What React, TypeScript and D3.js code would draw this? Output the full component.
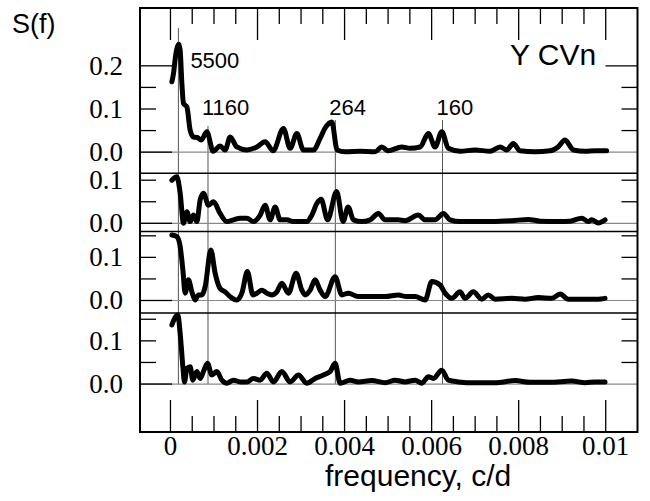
import React from "react";
import * as d3 from "d3";

// ---- data ----
const freq1 = [0.000032,0.000069,0.00012,0.000193,0.000223,0.000262,0.000299,0.000377,0.000452,0.000528,0.000613,0.000705,0.000836,0.000981,0.00114,0.001256,0.001371,0.001525,0.001755,0.001984,0.002175,0.002359,0.002595,0.002749,0.002903,0.003055,0.003284,0.003438,0.003553,0.003707,0.003829,0.004012,0.004357,0.004701,0.004855,0.005,0.005315,0.005505,0.005735,0.005926,0.006079,0.006233,0.006385,0.006654,0.006998,0.007343,0.007573,0.007726,0.007878,0.008032,0.008376,0.008721,0.008905,0.009065,0.009256,0.009525,0.009754,0.01002];
const power1 = [0.163,0.182,0.225,0.25,0.236,0.159,0.113,0.105,0.051,0.035,0.034,0.028,0.047,0.002,0.014,0.005,0.035,0.012,0.005,0.012,0.024,0.003,0.055,0.009,0.043,0.005,0.005,0.032,0.056,0.07,0.005,0.001,0.002,0.001,0.012,0.003,0.012,0.009,0.012,0.043,0.012,0.047,0.009,0.002,0.005,0.002,0.012,0.005,0.02,0.003,0.001,0.003,0.012,0.028,0.005,0.002,0.003,0.003];

const freq2 = [0.000032,0.000147,0.000223,0.000299,0.000377,0.000452,0.000528,0.000606,0.000682,0.000758,0.000873,0.000988,0.00114,0.001295,0.001447,0.001601,0.001755,0.001906,0.00206,0.002175,0.00229,0.002405,0.00252,0.002673,0.002825,0.002979,0.003133,0.003248,0.003362,0.003461,0.00361,0.003817,0.003966,0.004081,0.004203,0.004396,0.004587,0.004777,0.004931,0.00523,0.00539,0.005696,0.00585,0.006079,0.00627,0.006424,0.006654,0.006998,0.007389,0.007841,0.008222,0.008491,0.008911,0.00918,0.009449,0.0096,0.009678,0.00983,0.009984];
const power2 = [0.1,0.108,0.07,0.0,0.027,0.004,0.019,0.004,0.054,0.07,0.042,0.05,0.023,0.004,0.008,0.012,0.012,0.004,0.019,0.042,0.008,0.038,0.008,0.008,0.004,0.004,0.004,0.019,0.046,0.056,0.008,0.074,0.004,0.038,0.008,0.004,0.008,0.023,0.008,0.008,0.006,0.019,0.008,0.008,0.023,0.008,0.004,0.004,0.004,0.006,0.009,0.005,0.004,0.005,0.012,0.004,0.008,0.001,0.008];

const freq3 = [0.000032,0.000147,0.000223,0.000285,0.000338,0.000413,0.000492,0.000567,0.000643,0.000721,0.000797,0.000928,0.001027,0.00114,0.001256,0.001371,0.001525,0.00164,0.001768,0.001893,0.001984,0.002099,0.002214,0.002329,0.002444,0.002559,0.00271,0.002887,0.003018,0.003094,0.003209,0.003323,0.003438,0.003553,0.003783,0.003937,0.004088,0.004311,0.004931,0.005237,0.005413,0.00562,0.00585,0.006004,0.006194,0.006309,0.006463,0.006654,0.006768,0.006959,0.007152,0.007304,0.007458,0.007841,0.008147,0.008452,0.00876,0.008951,0.009141,0.009525,0.00983,0.009984];
const power3 = [0.152,0.148,0.125,0.071,0.017,0.048,0.02,0.001,0.013,0.013,0.032,0.117,0.063,0.028,0.02,0.009,0.001,0.017,0.067,0.013,0.017,0.024,0.017,0.013,0.02,0.04,0.017,0.063,0.024,0.013,0.024,0.048,0.024,0.009,0.055,0.013,0.017,0.009,0.009,0.013,0.009,0.009,0.001,0.044,0.036,0.017,0.005,0.02,0.005,0.02,0.003,0.013,0.003,0.005,0.003,0.007,0.005,0.015,0.003,0.003,0.003,0.005];

const freq4 = [0.000032,0.00017,0.000223,0.000285,0.000322,0.000377,0.000452,0.000514,0.000606,0.000682,0.000758,0.00085,0.000951,0.001066,0.001181,0.001295,0.001447,0.001601,0.001755,0.001906,0.00206,0.002214,0.002366,0.002559,0.002749,0.00294,0.003133,0.003323,0.003514,0.003668,0.003783,0.003898,0.004127,0.004318,0.004626,0.004931,0.00516,0.00539,0.00562,0.005774,0.005926,0.00604,0.006233,0.006385,0.006615,0.006998,0.007458,0.007917,0.008261,0.008721,0.009219,0.009525,0.009754,0.009984];
const power4 = [0.137,0.16,0.117,0.04,0.005,0.036,0.04,0.009,0.029,0.013,0.029,0.048,0.021,0.029,0.009,0.002,0.009,0.005,0.005,0.013,0.009,0.025,0.005,0.029,0.005,0.021,0.002,0.013,0.021,0.029,0.048,0.002,0.009,0.005,0.008,0.003,0.009,0.005,0.009,0.002,0.017,0.013,0.032,0.009,0.005,0.003,0.003,0.008,0.004,0.004,0.007,0.003,0.005,0.005];

const xMajorTicks = [0, 0.002, 0.004, 0.006, 0.008, 0.01];
const xTickLabels = ["0", "0.002", "0.004", "0.006", "0.008", "0.01"];
const xMinorTicks = [0.0005,0.001,0.0015,0.0025,0.003,0.0035,0.0045,0.005,0.0055,0.0065,0.007,0.0075,0.0085,0.009,0.0095];

const periods = [5500, 1160, 264, 160];
const periodLabels = ["5500", "1160", "264", "160"];

const panelDomains: [number, number][] = [[-0.049, 0.334], [-0.019, 0.116], [-0.029, 0.16], [-0.111, 0.1645]];
const panelMajor = [[0, 0.2], [0], [0], [0]];
const panelMinor = [[0.05, 0.1, 0.15], [0.05, 0.1], [0.05, 0.1, 0.15], [0.05, 0.1, 0.15]];
const panelLabelVals = [[0, 0.1, 0.2], [0, 0.1], [0, 0.1], [0, 0.1]];

const series = [
  { f: freq1, p: power1 },
  { f: freq2, p: power2 },
  { f: freq3, p: power3 },
  { f: freq4, p: power4 },
];

// ---- layout ----
const W = 650, H = 501;
const L = 140, R = 637.5, T = 8, B = 432;
const panelRanges: [number, number][] = [[173.3, 8], [231.5, 173.3], [313, 231.5], [432, 313]];

export default function App() {
  const x = d3.scaleLinear().domain([-0.0007, 0.01073]).range([L, R]);
  const ys = panelDomains.map((d, i) => d3.scaleLinear().domain(d).range(panelRanges[i]));
  const serifStyle = { fontFamily: '"Liberation Serif", "Times New Roman", Times, serif' };
  const sansStyle = { fontFamily: '"Liberation Sans", Arial, Helvetica, sans-serif' };
  const gridTop = [28, 126, 120, 120];
  const labelDx = [12, -6, -6, -6];
  const labelY = [68, 115, 115, 115];
  const gridBottom = ys[3](0);

  return (
    <svg width={W} height={H} style={{ position: "absolute", left: 0, top: 0, background: "#fff" }}>
      {periods.map((P, i) => (
        <line key={"g" + i} x1={x(1 / P)} x2={x(1 / P)} y1={gridTop[i]} y2={gridBottom} stroke="#555" strokeWidth={1} />
      ))}
      {series.map((s, i) => {
        const y = ys[i];
        const line = d3.line<number>().x((_, k) => x(s.f[k])).y((v) => y(v)).curve(d3.curveMonotoneX);
        return (
          <g key={"p" + i}>
            <line x1={L} x2={R} y1={y(0)} y2={y(0)} stroke="#888" strokeWidth={1.2} />
            {panelMajor[i].map((t) => (
              <g key={"M" + t}>
                <line x1={L} x2={L + 32} y1={y(t)} y2={y(t)} stroke="#000" strokeWidth={1.3} />
                {t !== 0 && <line x1={R - 32} x2={R} y1={y(t)} y2={y(t)} stroke="#000" strokeWidth={1.3} />}
              </g>
            ))}
            {panelMinor[i].map((t) => (
              <g key={"m" + t}>
                <line x1={L} x2={L + 16} y1={y(t)} y2={y(t)} stroke="#000" strokeWidth={1.3} />
                <line x1={R - 16} x2={R} y1={y(t)} y2={y(t)} stroke="#000" strokeWidth={1.3} />
              </g>
            ))}
            {panelLabelVals[i].map((t) => (
              <text key={"l" + t} x={123} y={y(t) + 9} textAnchor="end" style={serifStyle} fontSize={27} fill="#000">
                {t.toFixed(1)}
              </text>
            ))}
            <path d={line(s.p) || ""} fill="none" stroke="#000" strokeWidth={5} strokeLinejoin="round" strokeLinecap="round" />
          </g>
        );
      })}
      {panelRanges.slice(1).map((r, i) => (
        <line key={"s" + i} x1={L} x2={R} y1={r[1]} y2={r[1]} stroke="#000" strokeWidth={1.5} />
      ))}
      {xMajorTicks.map((t, i) => (
        <g key={"xt" + i}>
          <line x1={x(t)} x2={x(t)} y1={T} y2={T + 32} stroke="#000" strokeWidth={1.3} />
          <line x1={x(t)} x2={x(t)} y1={B} y2={B - 32} stroke="#000" strokeWidth={1.3} />
          <text x={x(t)} y={455} textAnchor="middle" style={serifStyle} fontSize={27} fill="#000">
            {xTickLabels[i]}
          </text>
        </g>
      ))}
      {xMinorTicks.map((t, i) => (
        <g key={"xm" + i}>
          <line x1={x(t)} x2={x(t)} y1={T} y2={T + 16} stroke="#000" strokeWidth={1.3} />
          <line x1={x(t)} x2={x(t)} y1={B} y2={B - 16} stroke="#000" strokeWidth={1.3} />
        </g>
      ))}
      <rect x={L} y={T} width={R - L} height={B - T} fill="none" stroke="#000" strokeWidth={2} />
      {periods.map((P, i) => (
        <text key={"pl" + i} x={x(1 / P) + labelDx[i]} y={labelY[i]} style={sansStyle} fontSize={22} fill="#000">
          {periodLabels[i]}
        </text>
      ))}
      <text x={510} y={65} style={sansStyle} fontSize={30} fill="#000">Y CVn</text>
      <text x={12} y={33} style={sansStyle} fontSize={27} fill="#000">S(f)</text>
      <text x={325} y={486} style={sansStyle} fontSize={30} fill="#000">frequency, c/d</text>
    </svg>
  );
}
